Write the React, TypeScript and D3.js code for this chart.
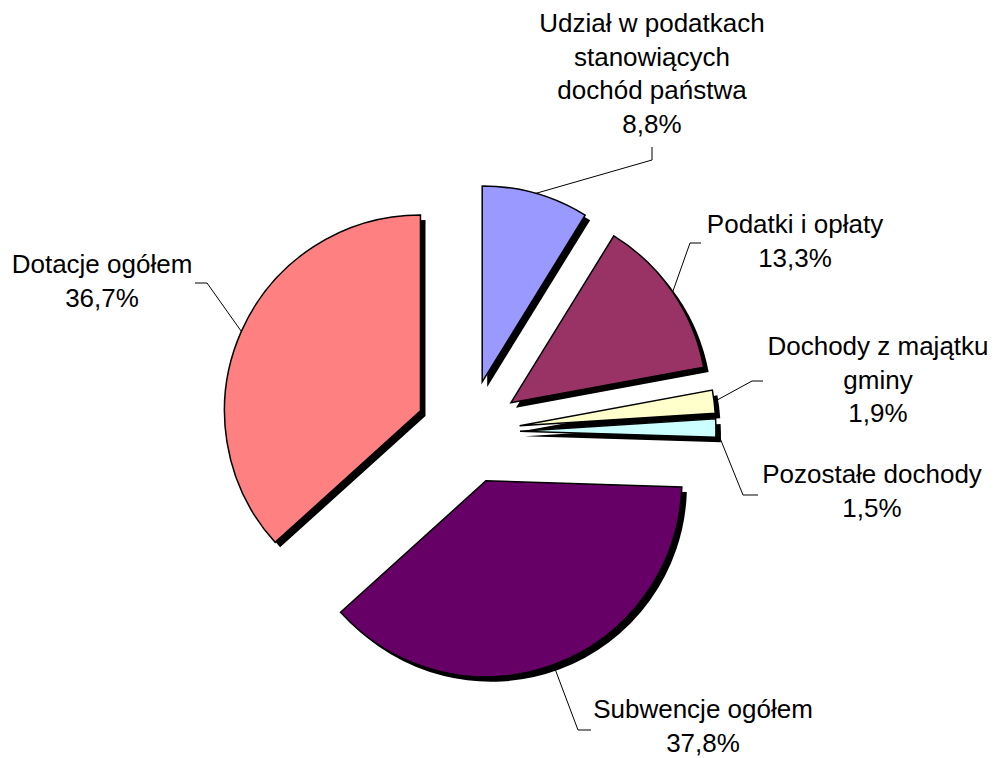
import * as d3 from "d3";

const labels = [
  "Udział w podatkach stanowiących dochód państwa",
  "Podatki i opłaty",
  "Dochody z majątku gminy",
  "Pozostałe dochody",
  "Subwencje ogółem",
  "Dotacje ogółem",
];
const shares = [8.8, 13.3, 1.9, 1.5, 37.8, 36.7];
const colors = ["#9999FF", "#993366", "#FFFFCC", "#CCFFFF", "#660066", "#FF8080"];

// label text lines as shown (Excel wraps the long names)
const labelLines = [
  ["Udział w podatkach", "stanowiących", "dochód państwa"],
  ["Podatki i opłaty"],
  ["Dochody z majątku", "gminy"],
  ["Pozostałe dochody"],
  ["Subwencje ogółem"],
  ["Dotacje ogółem"],
];

// placement of the data labels: text centre x, first baseline y, leader elbow and end
const labelLayout = [
  { x: 652, y: 32, elbow: [652, 160], end: [652, 147] },
  { x: 795, y: 233, elbow: [690, 243], end: [701, 243] },
  { x: 878, y: 355, elbow: [752, 381], end: [763, 381] },
  { x: 872, y: 483, elbow: [743, 495], end: [758, 495] },
  { x: 703, y: 718, elbow: [578, 730], end: [591, 730] },
  { x: 102, y: 273, elbow: [207, 283], end: [195, 283] },
];

const W = 997;
const H = 758;
const cx = 468;
const cy = 432;
const R = 196;
const explode = 52;
const lineH = 33.6;
const shadow = 5;

export default function App() {
  const pie = d3.pie<number>().sort(null).value((d) => d);
  const arcs = pie(shares);
  const arc = d3.arc<d3.PieArcDatum<number>>().innerRadius(0).outerRadius(R);
  const fmt = (v: number) => v.toFixed(1).replace(".", ",") + "%";

  const offset = (a: d3.PieArcDatum<number>) => {
    const mid = (a.startAngle + a.endAngle) / 2;
    return [explode * Math.sin(mid), -explode * Math.cos(mid)];
  };
  const edgePoint = (a: d3.PieArcDatum<number>) => {
    const mid = (a.startAngle + a.endAngle) / 2;
    const [ox, oy] = offset(a);
    return [cx + ox + R * Math.sin(mid), cy + oy - R * Math.cos(mid)];
  };

  return (
    <>
      <style>{"body{margin:0}"}</style>
      <svg width={W} height={H} style={{ display: "block", background: "#fff" }}>
        {/* shadows */}
        <g transform={`translate(${cx + shadow},${cy + shadow})`}>
          {arcs.map((a, i) => {
            const [ox, oy] = offset(a);
            return <path key={i} d={arc(a) || ""} transform={`translate(${ox},${oy})`} fill="#000" />;
          })}
        </g>
        {/* slices */}
        <g transform={`translate(${cx},${cy})`}>
          {arcs.map((a, i) => {
            const [ox, oy] = offset(a);
            return (
              <path
                key={i}
                d={arc(a) || ""}
                transform={`translate(${ox},${oy})`}
                fill={colors[i]}
                stroke="#000"
                strokeWidth={1.5}
                strokeLinejoin="miter"
              />
            );
          })}
        </g>
        {/* leader lines */}
        <g fill="none" stroke="#000" strokeWidth={1}>
          {arcs.map((a, i) => {
            const p = edgePoint(a);
            const L = labelLayout[i];
            const pts: [number, number][] = [
              [p[0], p[1]],
              [L.elbow[0], L.elbow[1]],
              [L.end[0], L.end[1]],
            ];
            return <path key={i} d={d3.line()(pts) || ""} />;
          })}
        </g>
        {/* labels */}
        <g fontFamily="'Liberation Sans', Arial, sans-serif" fontSize={26} fill="#000" textAnchor="middle">
          {arcs.map((a, i) => {
            const L = labelLayout[i];
            const lines = [...labelLines[i], fmt(shares[i])];
            return (
              <text key={i} x={L.x} y={L.y} aria-label={labels[i]}>
                {lines.map((t, j) => (
                  <tspan key={j} x={L.x} y={L.y + j * lineH}>
                    {t}
                  </tspan>
                ))}
              </text>
            );
          })}
        </g>
      </svg>
    </>
  );
}
